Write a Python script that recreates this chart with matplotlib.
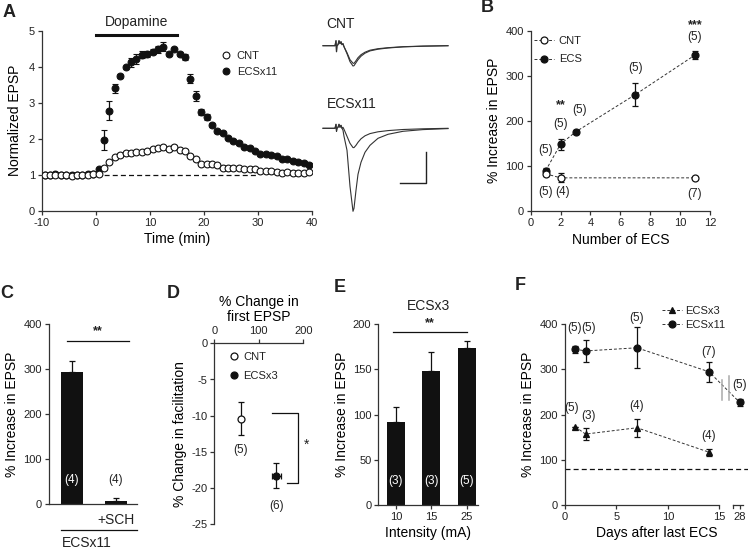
import matplotlib
matplotlib.use('Agg')
import matplotlib.pyplot as plt
import numpy as np

plt.rcParams['font.family'] = ['Liberation Sans', 'DejaVu Sans']
plt.rcParams['axes.unicode_minus'] = False
plt.rcParams['axes.linewidth'] = 0.9
plt.rcParams['xtick.major.width'] = 0.9
plt.rcParams['ytick.major.width'] = 0.9
plt.rcParams['xtick.major.size'] = 3
plt.rcParams['ytick.major.size'] = 3
plt.rcParams['xtick.labelsize'] = 8
plt.rcParams['ytick.labelsize'] = 8
plt.rcParams['axes.labelsize'] = 10
plt.rcParams['axes.edgecolor'] = '#333333'
plt.rcParams['xtick.color'] = '#333333'
plt.rcParams['ytick.color'] = '#333333'
plt.rcParams['xtick.labelcolor'] = '#222222'
plt.rcParams['ytick.labelcolor'] = '#222222'
plt.rcParams['text.color'] = '#222222'

# ---------------- DATA ----------------
# Panel A
a_time = np.arange(-9.5, 40.0, 1.0)
a_cnt = [0.98, 0.99, 1.00, 1.00, 0.98, 0.97, 0.99, 1.00, 1.00, 1.02,
         1.02, 1.18, 1.34, 1.48, 1.55, 1.59, 1.61, 1.62, 1.64, 1.67,
         1.71, 1.73, 1.76, 1.71, 1.78, 1.69, 1.67, 1.52, 1.43, 1.31,
         1.31, 1.30, 1.26, 1.20, 1.19, 1.18, 1.18, 1.17, 1.15, 1.15,
         1.11, 1.09, 1.09, 1.08, 1.06, 1.08, 1.04, 1.04, 1.05, 1.07]
a_cnt_err = [0.02] * 10 + [0.03, 0.04, 0.05, 0.05, 0.05, 0.05, 0.04, 0.04, 0.04, 0.04,
                           0.04, 0.04, 0.04, 0.04, 0.04, 0.04, 0.04, 0.04, 0.04, 0.04,
                           0.03, 0.03, 0.03, 0.03, 0.03, 0.03, 0.03, 0.03, 0.03, 0.03,
                           0.03, 0.03, 0.03, 0.03, 0.03, 0.03, 0.03, 0.03, 0.03, 0.03]
a_ecs = [0.99, 1.00, 1.01, 1.00, 0.98, 0.99, 1.00, 1.00, 1.01, 1.03,
         1.15, 1.96, 2.78, 3.40, 3.74, 3.98, 4.12, 4.22, 4.33, 4.36,
         4.42, 4.48, 4.56, 4.35, 4.49, 4.35, 4.26, 3.67, 3.18, 2.75,
         2.60, 2.38, 2.22, 2.17, 2.03, 1.94, 1.89, 1.77, 1.73, 1.66,
         1.57, 1.58, 1.56, 1.52, 1.45, 1.43, 1.39, 1.36, 1.33, 1.28]
a_ecs_err = [0.0] * 10 + [0.05, 0.28, 0.27, 0.12, 0.05, 0.05, 0.12, 0.14, 0.10, 0.08,
                          0.08, 0.10, 0.12, 0.04, 0.04, 0.05, 0.08, 0.13, 0.14, 0.08,
                          0.08, 0.05, 0.05, 0.04, 0.04, 0.04, 0.06, 0.04, 0.05, 0.04,
                          0.04, 0.04, 0.04, 0.04, 0.04, 0.04, 0.04, 0.04, 0.04, 0.04]

# Traces (time, amplitude; arbitrary units)
trace_t = [0, 12, 13, 13.5, 14, 15, 16, 17, 18, 19, 20, 21, 24, 27, 30, 31, 33, 35,
           38, 42, 47, 55, 65, 80, 100, 125]
trace_cnt_1 = [0, 0, 5, -6, 0, 1, 5, 2, 4, 1, 2, -1, -7, -14, -17.5, -17.7, -15, -12,
               -9, -6.5, -4.5, -3, -2, -1, -0.4, 0]
trace_cnt_2 = [0, 0, 5, -6, 0, 1, 5, 2, 4, 1, 2, -1, -8, -16, -20.3, -20, -17, -14,
               -10.5, -7.5, -5.2, -3.5, -2.3, -1.2, -0.5, 0]
trace_ecs_1 = [0, 0, 4, -3, 0, 1, 4, 1, 3, 0, 1, -1, -8, -15, -19.3, -19.3, -17, -14,
               -10.5, -7.5, -5.3, -3.5, -2.3, -1.2, -0.5, 0]
trace_ecs_2 = [0, 0, 4, -3, 0, 1, 4, 1, 3, 0, -2, -8, -22, -58, -83, -80, -62, -46,
               -34, -24, -17, -10, -6, -3, -1.3, -0.3]
scalebar_t = [77, 103, 103]
scalebar_amp = [-54.4, -54.4, -23.4]

# Panel B
b_cnt_n = [1, 2, 11]
b_cnt = [82, 73, 73]
b_cnt_err = [5, 10, 3]
b_ecs_n = [1, 2, 3, 7, 11]
b_ecs = [89, 148, 175, 258, 346]
b_ecs_err = [5, 12, 4, 25, 8]

# Panel C
c_labels = ['', '+SCH']
c_vals = [293, 7]
c_err = [25, 6]
c_n = ['(4)', '(4)']

# Panel D
d_cnt_x, d_cnt_y, d_cnt_yerr = 59, -10.4, 2.3
d_ecs_x, d_ecs_y, d_ecs_yerr, d_ecs_xerr = 139, -18.3, 1.7, 10

# Panel E
e_labels = ['10', '15', '25']
e_vals = [92, 148, 174]
e_err = [17, 21, 7]
e_n = ['(3)', '(3)', '(5)']

# Panel F
f_days3 = [1, 2, 7, 14]
f_ecs3 = [173, 157, 171, 117]
f_ecs3_err = [0, 14, 20, 8]
f_days11 = [1, 2, 7, 14, 28]
f_ecs11 = [345, 341, 348, 295, 227]
f_ecs11_err = [8, 25, 45, 22, 8]
f_tick_days = [0, 5, 10, 15, 28]

# ---------------- FIGURE ----------------
W, H = 748, 550
fig = plt.figure(figsize=(W / 100, H / 100), dpi=100)


def px_axes(l, t, r, b):
    return fig.add_axes([l / W, 1 - b / H, (r - l) / W, (b - t) / H])


def style(ax):
    ax.spines['top'].set_visible(False)
    ax.spines['right'].set_visible(False)
    ax.tick_params(direction='out', pad=2)


BLK = '#111111'
EB = dict(elinewidth=0.9, capsize=2.5, capthick=0.9, ecolor=BLK)


def daymap(d):
    return 17.0 if d == 28 else d


# ---------- Panel A ----------
ax = px_axes(42, 30.7, 311.7, 210.7)
style(ax)
e_ecs = ax.errorbar(a_time, a_ecs, yerr=a_ecs_err, fmt='o', ms=4.9, mfc=BLK, mec=BLK,
                    mew=0.8, zorder=2, **EB)
e_cnt = ax.errorbar(a_time, a_cnt, yerr=a_cnt_err, fmt='o', ms=4.9, mfc='white', mec=BLK,
                    mew=0.8, zorder=3, **EB)
ax.plot([0, 30], [1, 1], ls=(0, (4, 2.5)), color=BLK, lw=0.9, zorder=1)
ax.plot([0, 15], [4.87, 4.87], color=BLK, lw=2.2, clip_on=False)
ax.text(7.5, 5.05, 'Dopamine', ha='center', va='bottom', fontsize=10)
ax.set_xlim(-10, 40)
ax.set_ylim(0, 5)
ax.set_xticks([-10, 0, 10, 20, 30, 40])
ax.set_yticks([0, 1, 2, 3, 4, 5])
ax.set_xlabel('Time (min)', labelpad=3)
ax.set_ylabel('Normalized EPSP', labelpad=5)
ax.legend([e_cnt[0], e_ecs[0]], ['CNT', 'ECSx11'], loc='upper left',
          bbox_to_anchor=(0.66, 0.89), frameon=False, fontsize=8, handlelength=1.0,
          handletextpad=0.5, labelspacing=0.55, borderpad=0, borderaxespad=0)

# ---------- Traces ----------
axt = px_axes(300, 0, 460, 230)
axt.set_xlim(-23, 137)
axt.set_ylim(230, 0)
axt.axis('off')
base_cnt, base_ecs = 45.7, 128.3
tt = np.array(trace_t)
axt.plot(tt, base_cnt - np.array(trace_cnt_1), color='#333333', lw=0.8)
axt.plot(tt, base_cnt - np.array(trace_cnt_2), color='#333333', lw=0.8)
axt.plot(tt, base_ecs - np.array(trace_ecs_1), color='#333333', lw=0.8)
axt.plot(tt, base_ecs - np.array(trace_ecs_2), color='#333333', lw=0.8)
axt.plot(scalebar_t, base_ecs - np.array(scalebar_amp), color='#222222', lw=1.0)
axt.text(3.5, 23.5, 'CNT', ha='left', va='center', fontsize=10)
axt.text(3.5, 104.5, 'ECSx11', ha='left', va='center', fontsize=10)

# ---------- Panel B ----------
ax = px_axes(530.7, 30.7, 710, 210.7)
style(ax)
ln_kw = dict(ls=(0, (3, 2)), lw=0.7, color='#333333')
eb_c = ax.errorbar(b_cnt_n, b_cnt, yerr=b_cnt_err, fmt='o', ms=5, mfc='white', mec=BLK,
                   mew=0.9, zorder=3, **ln_kw, **EB)
eb_e = ax.errorbar(b_ecs_n, b_ecs, yerr=b_ecs_err, fmt='o', ms=5, mfc=BLK, mec=BLK,
                   mew=0.9, zorder=2, **ln_kw, **EB)
ax.set_xlim(0, 12)
ax.set_ylim(0, 400)
ax.set_xticks(range(0, 13, 2))
ax.set_yticks(range(0, 401, 100))
ax.set_xlabel('Number of ECS', labelpad=4)
ax.set_ylabel('% Increase in EPSP', labelpad=3)
ax.legend([eb_c[0], eb_e[0]], ['CNT', 'ECS'], loc='upper left', bbox_to_anchor=(0.02, 0.97),
          frameon=False, fontsize=8, handlelength=1.8, handletextpad=0.4,
          labelspacing=0.75, borderpad=0, borderaxespad=0)
fs_n = 8.5
for x, y, s in [(1.0, 135, '(5)'), (2.0, 193, '(5)'), (3.3, 224, '(5)'),
                (7.0, 316, '(5)'), (11.0, 387, '(5)'), (1.0, 42, '(5)'),
                (2.1, 42, '(4)'), (11.0, 38, '(7)')]:
    ax.text(x, y, s, ha='center', va='center', fontsize=fs_n)
ax.text(2.0, 235, '**', ha='center', va='center', fontsize=9, fontweight='bold')
ax.text(11.0, 413, '***', ha='center', va='center', fontsize=9, fontweight='bold')

# ---------- Panel C ----------
ax = px_axes(49, 324.3, 136.7, 504.3)
style(ax)
xc = np.arange(len(c_vals))
ax.bar(xc, c_vals, width=0.49, color=BLK, zorder=2)
ax.errorbar(xc, c_vals, yerr=[[0] * len(c_err), c_err], fmt='none', **EB)
ax.set_xlim(-0.52, 1.475)
ax.set_ylim(0, 400)
ax.set_yticks(range(0, 401, 100))
ax.set_xticks(xc)
ax.set_xticklabels(c_labels, fontsize=10)
ax.tick_params(axis='x', length=0, pad=6)
ax.set_ylabel('% Increase in EPSP', labelpad=3)
ax.text(0, 54, c_n[0], ha='center', va='center', fontsize=fs_n, color='white')
ax.text(1, 54, c_n[1], ha='center', va='center', fontsize=fs_n)
ax.plot([-0.1, 1.3], [364, 364], color=BLK, lw=0.9)
ax.text(0.6, 372, '**', ha='center', va='bottom', fontsize=9, fontweight='bold')
ax.plot([-0.25, 1.475], [-0.145, -0.145], color=BLK, lw=0.9, clip_on=False,
        transform=ax.get_xaxis_transform())
ax.text(0.35, -0.215, 'ECSx11', ha='center', va='center', fontsize=10,
        transform=ax.get_xaxis_transform())

# ---------- Panel D ----------
ax = px_axes(214.3, 343.3, 303.3, 524.3)
ax.spines['bottom'].set_visible(False)
ax.spines['right'].set_visible(False)
ax.xaxis.tick_top()
ax.xaxis.set_label_position('top')
ax.tick_params(direction='out', pad=2)
d1 = ax.errorbar([d_cnt_x], [d_cnt_y], yerr=[d_cnt_yerr], fmt='o', ms=5, mfc='white',
                 mec=BLK, mew=0.9, zorder=3, **EB)
d2 = ax.errorbar([d_ecs_x], [d_ecs_y], yerr=[d_ecs_yerr], xerr=[d_ecs_xerr], fmt='o', ms=5,
                 mfc=BLK, mec=BLK, mew=0.9, zorder=3, **EB)
ax.set_xlim(0, 200)
ax.set_ylim(-25, 0)
ax.set_xticks([0, 100, 200])
ax.set_yticks([0, -5, -10, -15, -20, -25])
ax.set_xlabel('% Change in\nfirst EPSP', labelpad=4, linespacing=1.1)
ax.set_ylabel('% Change in facilitation', labelpad=3)
ax.legend([d1[0], d2[0]], ['CNT', 'ECSx3'], loc='upper left', bbox_to_anchor=(0.16, 0.95),
          frameon=False, fontsize=8, handlelength=1.0, handletextpad=0.3,
          labelspacing=0.8, borderpad=0, borderaxespad=0)
ax.text(d_cnt_x, -14.8, '(5)', ha='center', va='center', fontsize=fs_n)
ax.text(d_ecs_x, -22.5, '(6)', ha='center', va='center', fontsize=fs_n)
ax.plot([129, 189, 189, 164], [-9.6, -9.6, -19.3, -19.3], color=BLK, lw=0.9,
        clip_on=False)
ax.text(207, -14.0, '*', ha='center', va='center', fontsize=10, clip_on=False)

# ---------- Panel E ----------
ax = px_axes(378.3, 324.3, 478.3, 505)
style(ax)
xe = np.arange(len(e_vals))
ax.bar(xe, e_vals, width=0.51, color=BLK, zorder=2)
ax.errorbar(xe, e_vals, yerr=[[0] * len(e_err), e_err], fmt='none', **EB)
ax.set_xlim(-0.5, 2.33)
ax.set_ylim(0, 200)
ax.set_yticks(range(0, 201, 50))
ax.set_xticks(xe)
ax.set_xticklabels(e_labels)
ax.set_xlabel('Intensity (mA)', labelpad=3)
ax.set_ylabel('% Increase in EPSP', labelpad=3)
ax.set_title('ECSx3', fontsize=10, pad=10)
for x, s in zip(xe, e_n):
    ax.text(x, 27, s, ha='center', va='center', fontsize=fs_n, color='white')
ax.plot([-0.08, 2.02], [192, 192], color=BLK, lw=0.9, clip_on=False)
ax.text(0.97, 195, '**', ha='center', va='bottom', fontsize=9, fontweight='bold')

# ---------- Panel F ----------
ax = px_axes(565, 324.3, 748, 505)
style(ax)
ax.set_xlim(0, 17.8)
ax.set_ylim(0, 400)
x3 = [daymap(d) for d in f_days3]
x11 = [daymap(d) for d in f_days11]
f1 = ax.errorbar(x11, f_ecs11, yerr=f_ecs11_err, fmt='o', ms=5, mfc=BLK, mec=BLK, mew=0.9,
                 zorder=3, **ln_kw, **EB)
f2 = ax.errorbar(x3, f_ecs3, yerr=f_ecs3_err, fmt='^', ms=5, mfc=BLK, mec=BLK, mew=0.9,
                 zorder=3, **ln_kw, **EB)
ax.plot([0, 17.8], [80, 80], ls=(0, (4, 2.5)), color=BLK, lw=0.9, clip_on=False)
ax.spines['bottom'].set_bounds(0, 15)
ax.plot([16.3, 17.3], [0, 0], color='#333333', lw=0.9, clip_on=False)
ax.plot([16.3, 16.3], [0, -7], color='#333333', lw=0.9, clip_on=False)
for xb, ytop in [(15.3, 277), (16.0, 285)]:
    ax.plot([xb, xb], [232, ytop], color='#aaaaaa', lw=1.1, zorder=4)
ax.set_xticks([daymap(d) for d in f_tick_days])
ax.set_xticklabels([str(d) for d in f_tick_days])
ax.set_yticks(range(0, 401, 100))
ax.set_xlabel('Days after last ECS', labelpad=3)
ax.set_ylabel('% Increase in EPSP', labelpad=3)
ax.legend([f2[0], f1[0]], ['ECSx3', 'ECSx11'], loc='upper left', bbox_to_anchor=(0.53, 1.10),
          frameon=False, fontsize=8, handlelength=1.8, handletextpad=0.3,
          labelspacing=0.35, borderpad=0, borderaxespad=0)
for x, y, s in [(0.9, 392, '(5)'), (2.3, 392, '(5)'), (7.0, 413, '(5)'), (14.0, 339, '(7)'),
                (17.0, 266, '(5)'), (0.6, 214, '(5)'), (2.3, 197, '(3)'), (7.0, 219, '(4)'),
                (14.0, 153, '(4)')]:
    ax.text(x, y, s, ha='center', va='center', fontsize=fs_n, clip_on=False)

# ---------- Panel letters ----------
for s, x, y in [('A', 9, 12.7), ('B', 487, 8), ('C', 7, 293), ('D', 173, 293),
                ('E', 340, 287), ('F', 520, 286)]:
    fig.text(x / W, 1 - y / H, s, fontsize=13, fontweight='bold', ha='center',
             va='center')

fig.savefig('out.png', dpi=100)
